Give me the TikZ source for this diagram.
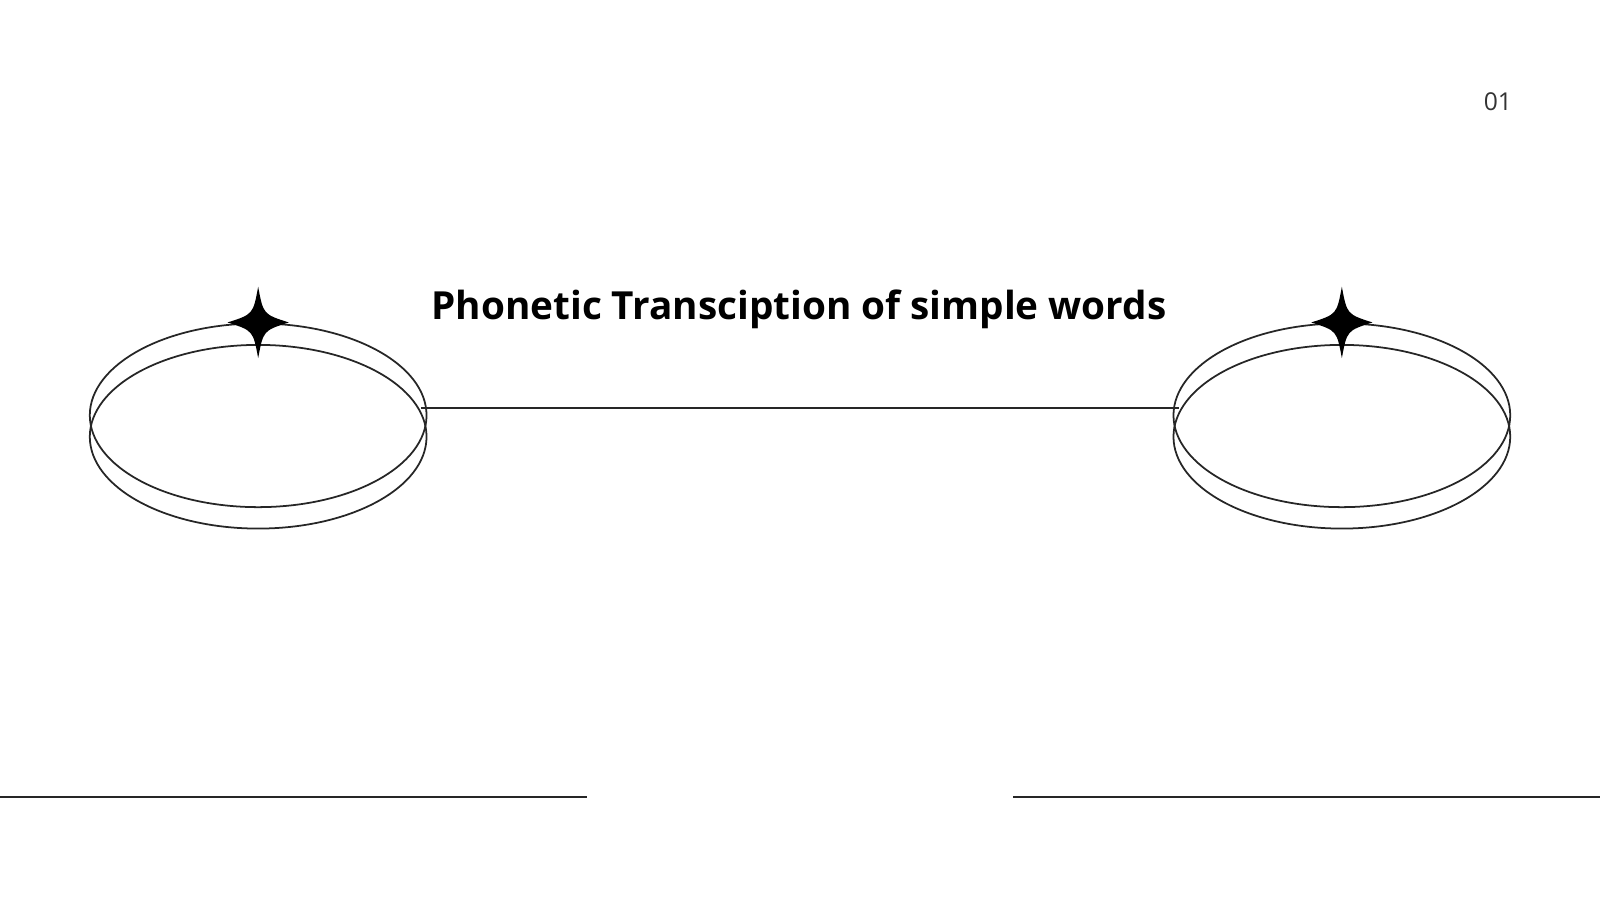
\documentclass[tikz,border=0pt]{standalone}
\usepackage{fontspec}
\setmainfont{Open Sans}
\tikzset{
  ring/.style={draw=black!85,line width=0.5pt},
  rule/.style={draw=black!85,line width=0.6pt},
  spark/.style={fill=black}
}
\newcommand{\sparkle}[1]{%
  \fill[spark] ($#1+(0,-35)$) .. controls ($#1+(5,-8)$) .. ($#1+(30,0)$)
    .. controls ($#1+(5,8)$) .. ($#1+(0,35)$)
    .. controls ($#1+(-5,8)$) .. ($#1+(-30,0)$)
    .. controls ($#1+(-5,-8)$) .. cycle;}
\usetikzlibrary{calc}
\begin{document}
\begin{tikzpicture}[x=0.0102cm,y=-0.0102cm]
  \useasboundingbox (0,0) rectangle (1568,882);
  % left ring
  \draw[ring] (253,407) ellipse [x radius=165,y radius=90];
  \draw[ring] (253,428) ellipse [x radius=165,y radius=90];
  \sparkle{(253,316)}
  % right ring
  \draw[ring] (1315,407) ellipse [x radius=165,y radius=90];
  \draw[ring] (1315,428) ellipse [x radius=165,y radius=90];
  \sparkle{(1315,316)}
  % link
  \coordinate (l) at (413,400);
  \coordinate (r) at (1155,400);
  \draw[rule] (l) -- (r);
  \node[font=\bfseries\fontsize{11}{13}\selectfont] (title) at (783,303) {Phonetic Transciption of simple words};
  \node[font=\fontsize{7}{8}\selectfont,text=black!80] (num) at (1468,100) {01};
  % bottom rules
  \coordinate (a) at (0,781);
  \coordinate (b) at (575,781);
  \coordinate (c) at (993,781);
  \coordinate (d) at (1568,781);
  \draw[rule] (a) -- (b);
  \draw[rule] (c) -- (d);
\end{tikzpicture}
\end{document}
